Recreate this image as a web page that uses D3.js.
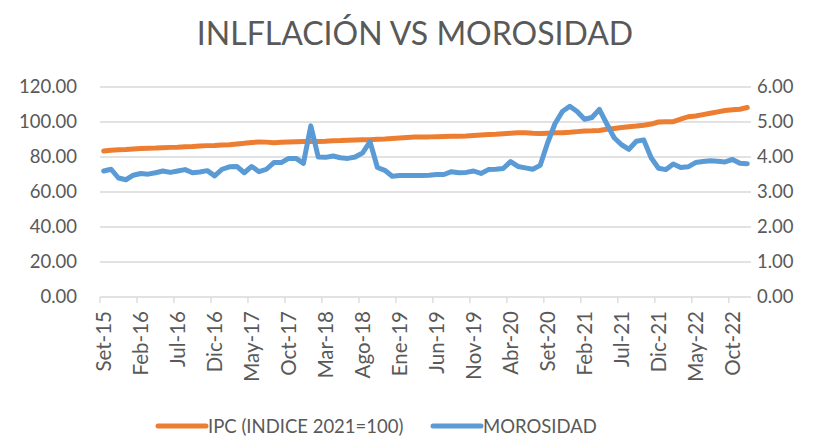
<!DOCTYPE html>
<html><head><meta charset="utf-8">
<script src="https://cdn.jsdelivr.net/npm/d3@7"></script>
<style>body{margin:0;background:#fff;} svg{display:block;} text{font-family:Lato,"Open Sans",sans-serif;fill:#595959;}</style>
</head><body>
<svg id="c" width="820" height="438"></svg>
<script>
const monthNames = ["Ene","Feb","Mar","Abr","May","Jun","Jul","Ago","Set","Oct","Nov","Dic"];
const categories = [];
for (let y = 2015, m = 8; !(y === 2023); ) { categories.push(monthNames[m] + "-" + String(y).slice(2)); m++; if (m === 12) { m = 0; y++; } }

const ipc = [83.4,83.8,84.1,84.3,84.6,84.8,85.0,85.1,85.3,85.5,85.6,85.8,86.0,86.3,86.5,86.6,86.8,87.0,87.4,87.8,
  88.3,88.6,88.5,88.2,88.4,88.6,88.7,88.8,88.8,88.8,89.0,89.3,89.4,89.6,89.7,89.8,89.9,90.1,90.3,90.6,
  90.9,91.2,91.4,91.5,91.5,91.6,91.7,91.8,91.9,92.0,92.3,92.6,92.8,93.0,93.3,93.6,93.8,93.9,93.6,93.4,
  93.6,93.8,93.9,94.1,94.5,94.9,95.0,95.2,95.8,96.3,96.8,97.3,97.7,98.2,98.8,100.0,100.2,100.2,101.6,103.0,
  103.4,104.2,105.0,105.8,106.6,107.0,107.3,108.3];
const morosidad = [3.60,3.65,3.40,3.35,3.48,3.53,3.51,3.55,3.60,3.56,3.60,3.64,3.55,3.57,3.61,3.46,3.65,3.72,3.73,3.55,
  3.73,3.58,3.65,3.84,3.84,3.96,3.96,3.82,4.89,4.00,3.99,4.03,3.98,3.96,4.00,4.12,4.44,3.70,3.62,3.45,
  3.47,3.47,3.47,3.47,3.48,3.50,3.50,3.58,3.55,3.56,3.60,3.53,3.64,3.65,3.67,3.87,3.73,3.69,3.65,3.76,
  4.40,4.95,5.30,5.45,5.30,5.08,5.13,5.36,4.95,4.55,4.35,4.22,4.45,4.49,3.98,3.68,3.64,3.80,3.70,3.72,
  3.84,3.87,3.89,3.88,3.86,3.93,3.82,3.81];
const leftTicks = [0,20,40,60,80,100,120];
const rightTicks = [0,1,2,3,4,5,6];
const title = "INLFLACIÓN VS MOROSIDAD";
const seriesNames = ["IPC (INDICE 2021=100)", "MOROSIDAD"];
const colors = ["#ED7D31", "#5B9BD5"];

const svg = d3.select("#c");
const L = 100, R = 751, T = 87, B = 297;
const x = d3.scaleBand().domain(categories).range([L, R]).padding(0);
const yL = d3.scaleLinear().domain([0, 120]).range([B, T]);
const yR = d3.scaleLinear().domain([0, 6]).range([B, T]);
const cx = d => x(d) + x.bandwidth() / 2;

svg.append("text").attr("x", 415).attr("y", 45).attr("text-anchor", "middle")
  .style("font-size", "32px").text(title);

// gridlines
svg.append("g").selectAll("line").data(leftTicks.filter(d => d > 0)).join("line")
  .attr("x1", L).attr("x2", R).attr("y1", d => yL(d)).attr("y2", d => yL(d))
  .attr("stroke", "#d9d9d9").attr("stroke-width", 1.3);

// left axis
const gl = svg.append("g").attr("transform", `translate(${L},0)`)
  .call(d3.axisLeft(yL).tickValues(leftTicks).tickFormat(d3.format(".2f")).tickSize(0).tickPadding(23));
gl.select(".domain").remove();
gl.selectAll("text").style("font-size", "18.5px").style("font-family", "Lato").attr("fill", "#595959");

// right axis
const gr = svg.append("g").attr("transform", `translate(${R},0)`)
  .call(d3.axisRight(yR).tickValues(rightTicks).tickFormat(d3.format(".2f")).tickSize(0).tickPadding(6));
gr.select(".domain").remove();
gr.selectAll("text").style("font-size", "18.5px").style("font-family", "Lato").attr("fill", "#595959");

// x axis
const tickCats = categories.filter((d, i) => i % 5 === 0);
const gx = svg.append("g").attr("transform", `translate(0,${B})`);
gx.append("line").attr("x1", L).attr("x2", R).attr("stroke", "#d9d9d9").attr("stroke-width", 1.3);
gx.selectAll("line.tk").data(tickCats).join("line").attr("class", "tk")
  .attr("x1", d => x(d)).attr("x2", d => x(d)).attr("y1", 0).attr("y2", 6)
  .attr("stroke", "#d9d9d9").attr("stroke-width", 1.3);
gx.selectAll("text").data(tickCats).join("text")
  .attr("transform", d => `translate(${cx(d) + 7.5},14) rotate(-90)`)
  .attr("text-anchor", "end").style("font-size", "20.5px").text(d => d);

// lines
const lineL = d3.line().x((d, i) => cx(categories[i])).y(d => yL(d));
const lineR = d3.line().x((d, i) => cx(categories[i])).y(d => yR(d));
svg.append("path").datum(ipc).attr("d", lineL).attr("fill", "none")
  .attr("stroke", colors[0]).attr("stroke-width", 5).attr("stroke-linejoin", "round").attr("stroke-linecap", "round");
svg.append("path").datum(morosidad).attr("d", lineR).attr("fill", "none")
  .attr("stroke", colors[1]).attr("stroke-width", 5).attr("stroke-linejoin", "round").attr("stroke-linecap", "round");

// legend
const leg = [{n: seriesNames[0], c: colors[0], x: 158}, {n: seriesNames[1], c: colors[1], x: 433}];
const lg = svg.append("g");
leg.forEach(l => {
  lg.append("line").attr("x1", l.x).attr("x2", l.x + 48).attr("y1", 426).attr("y2", 426)
    .attr("stroke", l.c).attr("stroke-width", 5).attr("stroke-linecap", "round");
  lg.append("text").attr("x", l.x + 50).attr("y", 433).style("font-size", "18.5px").text(l.n);
});
</script>
</body></html>
